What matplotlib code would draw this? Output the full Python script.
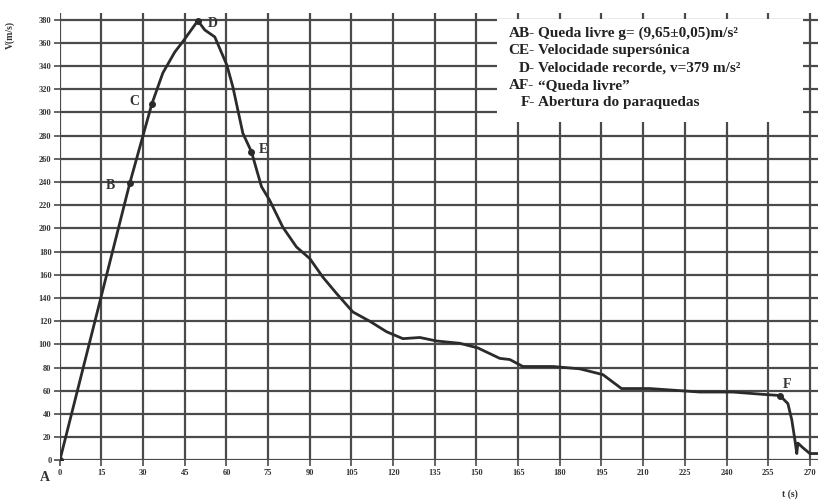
import numpy as np
import matplotlib.pyplot as plt

# velocity curve: t (s), v (m/s)
t = [0, 25.2, 33.1, 37.1, 41.4, 44.3, 49.7, 52.2, 55.8, 60.1, 62.3, 65.9, 69.0,
     72.6, 75.6, 80.3, 85.2, 90.0, 94.7, 99.6, 105.5, 111.6, 117.6, 123.5, 129.6,
     135.6, 144.0, 150.5, 158.4, 162.0, 166.7, 177.5, 187.2, 195.5, 202.2, 212.4,
     230.4, 242.3, 253.1, 259.2, 262.1, 263.5, 264.6, 265.3, 265.7, 267.5, 270.0, 272.9]
v = [0, 239, 307, 334, 352, 361, 379, 371, 365, 341, 322, 282, 266,
     236, 224, 201, 184, 174, 158, 144, 128, 120, 111, 105, 106,
     103, 101, 97, 88, 87, 81, 81, 79, 74, 62, 62,
     59, 59, 57, 56, 49, 35, 18, 6, 15, 11, 6, 6]

pt_names = ['A', 'B', 'C', 'D', 'E', 'F']
pt_t = [0, 25.2, 33.1, 49.7, 69.0, 259.2]
pt_v = [0, 239, 307, 379, 266, 56]
pt_off = [(-14, -12), (-17, -2), (-16, 2), (7, -2), (5, 2), (2, 8)]

xticks = list(range(0, 271, 15))
yticks = list(range(0, 381, 20))

legend_keys = ['AB-', 'CE-', 'D-', 'AF-', 'F-']
legend_text = ['Queda livre g= (9,65\u00b10,05)m/s\u00b2',
               'Velocidade supers\u00f3nica',
               'Velocidade recorde, v=379 m/s\u00b2',
               '\u201cQueda livre\u201d',
               'Abertura do paraquedas']

plt.rcParams['font.family'] = ['Liberation Serif', 'DejaVu Serif']
plt.rcParams['font.weight'] = 'bold'

fig = plt.figure(figsize=(8.19, 5.03), dpi=100)
ax = fig.add_axes([0.073, 0.0845, 0.926, 0.8905])
ax.set_xlim(0, 273)
ax.set_ylim(0, 386)

gc = '#4a4a4a'
for x in xticks:
    ax.axvline(x, color=gc, lw=1.6, zorder=1)
for y in yticks:
    ax.axhline(y, color=gc, lw=1.6, zorder=1)

for s in ax.spines.values():
    s.set_visible(False)

ax.set_xticks(xticks)
ax.set_yticks(yticks)
ax.tick_params(axis='both', length=4, width=1.2, color=gc, labelsize=6, pad=2)
for lab in ax.get_xticklabels() + ax.get_yticklabels():
    lab.set_fontweight('bold')
    lab.set_color('#333333')

# white box for the legend text
ax.add_patch(plt.Rectangle((0.577, 0.755), 0.403, 0.23, transform=ax.transAxes,
                           facecolor='white', edgecolor='none', zorder=2))

ax.plot(t, v, color='#2b2b2b', lw=2.0, zorder=3)
ax.plot(pt_t, pt_v, 'o', color='#2b2b2b', ms=4, zorder=4)
for n, x, y, o in zip(pt_names, pt_t, pt_v, pt_off):
    ax.annotate(n, (x, y), xytext=o, textcoords='offset points', fontsize=10,
                fontweight='bold', color='#333333', ha='left', va='center', zorder=5)

for i, (k, s) in enumerate(zip(legend_keys, legend_text)):
    yy = 0.953 - i * 0.0385
    ax.text(0.626, yy, k, transform=ax.transAxes, ha='right', va='center',
            fontsize=11, fontweight='bold', color='#222222', zorder=5)
    ax.text(0.631, yy, s, transform=ax.transAxes, ha='left', va='center',
            fontsize=11, fontweight='bold', color='#222222', zorder=5)

fig.text(0.012, 0.93, 'V(m/s)', rotation=90, ha='center', va='center',
         fontsize=7, fontweight='bold', color='#333333')
fig.text(0.965, 0.018, 't (s)', ha='center', va='center',
         fontsize=7, fontweight='bold', color='#333333')

fig.savefig('out.png', dpi=100)
